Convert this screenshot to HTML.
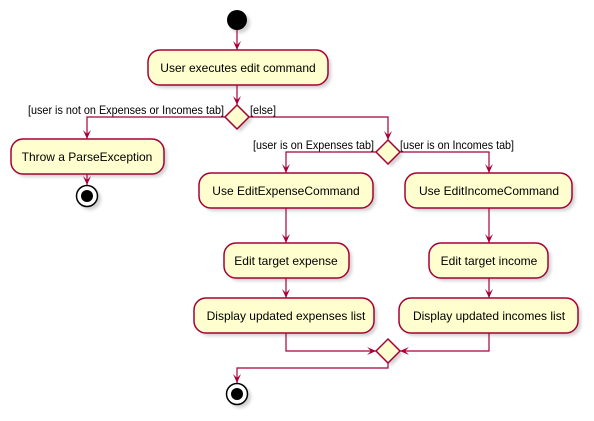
<!DOCTYPE html>
<html><head><meta charset="utf-8"><style>
html,body{margin:0;padding:0;background:#fff}
svg{display:block}
text{font-family:"Liberation Sans",sans-serif;font-size:12px;fill:#000}
.b{fill:#FEFECE;stroke:#A80036;stroke-width:1.5}
.s{fill:#000;opacity:0.18}
.l{stroke:#A80036;stroke-width:1.2;fill:none}
.a{fill:#A80036}
</style></head><body>
<svg width="594" height="421" viewBox="0 0 594 421" xmlns="http://www.w3.org/2000/svg">
<defs><filter id="f" x="-20%" y="-20%" width="150%" height="160%"><feGaussianBlur stdDeviation="1.5"/></filter></defs>
<circle cx="240" cy="23" r="10" class="s" filter="url(#f)"/>
<circle cx="237" cy="20" r="10" fill="#000"/>
<line x1="237" y1="30" x2="237" y2="50" class="l"/><path d="M233,41 L237,50 L241,41 L237,45Z" class="a"/>
<rect x="151" y="53" width="180" height="35" rx="12" class="s" filter="url(#f)"/>
<rect x="148" y="50" width="180" height="35" rx="12" class="b"/>
<text x="238" y="72" text-anchor="middle">User executes edit command</text>
<line x1="237" y1="85" x2="237" y2="105" class="l"/><path d="M233,96 L237,105 L241,96 L237,100Z" class="a"/>
<path d="M240,108 L252,120 L240,132 L228,120Z" class="s" filter="url(#f)"/>
<path d="M237,105 L249,117 L237,129 L225,117Z" class="b"/>
<text x="28" y="114" font-size="11" textLength="196" lengthAdjust="spacingAndGlyphs">[user is not on Expenses or Incomes tab]</text>
<text x="250" y="114" font-size="11" textLength="26" lengthAdjust="spacingAndGlyphs">[else]</text>
<path d="M225,117 H87 V139" class="l"/><path d="M83,130 L87,139 L91,130 L87,134Z" class="a"/>
<path d="M249,117 H388 V140" class="l"/><path d="M384,131 L388,140 L392,131 L388,135Z" class="a"/>
<rect x="14" y="142" width="153" height="35" rx="12" class="s" filter="url(#f)"/>
<rect x="11" y="139" width="153" height="35" rx="12" class="b"/>
<text x="87" y="161" text-anchor="middle">Throw a ParseException</text>
<line x1="87" y1="174" x2="87" y2="185" class="l"/><path d="M83,176 L87,185 L91,176 L87,180Z" class="a"/>
<circle cx="90" cy="199" r="11" class="s" filter="url(#f)"/>
<circle cx="87" cy="196" r="10.5" fill="#fff" stroke="#000" stroke-width="1.5"/>
<circle cx="87" cy="196" r="6" fill="#000"/>
<path d="M391,143 L403,155 L391,167 L379,155Z" class="s" filter="url(#f)"/>
<path d="M388,140 L400,152 L388,164 L376,152Z" class="b"/>
<text x="253" y="149" font-size="11" textLength="121" lengthAdjust="spacingAndGlyphs">[user is on Expenses tab]</text>
<text x="400" y="149" font-size="11" textLength="114" lengthAdjust="spacingAndGlyphs">[user is on Incomes tab]</text>
<path d="M376,152 H286 V173" class="l"/><path d="M282,164 L286,173 L290,164 L286,168Z" class="a"/>
<path d="M400,152 H489 V173" class="l"/><path d="M485,164 L489,173 L493,164 L489,168Z" class="a"/>
<rect x="202" y="176" width="174" height="35" rx="12" class="s" filter="url(#f)"/>
<rect x="199" y="173" width="174" height="35" rx="12" class="b"/>
<text x="286" y="195" text-anchor="middle">Use EditExpenseCommand</text>
<line x1="286" y1="208" x2="286" y2="243" class="l"/><path d="M282,234 L286,243 L290,234 L286,238Z" class="a"/>
<rect x="227" y="246" width="125" height="35" rx="12" class="s" filter="url(#f)"/>
<rect x="224" y="243" width="125" height="35" rx="12" class="b"/>
<text x="286" y="265" text-anchor="middle">Edit target expense</text>
<line x1="286" y1="278" x2="286" y2="298" class="l"/><path d="M282,289 L286,298 L290,289 L286,293Z" class="a"/>
<rect x="197" y="301" width="180" height="35" rx="12" class="s" filter="url(#f)"/>
<rect x="194" y="298" width="180" height="35" rx="12" class="b"/>
<text x="286" y="320" text-anchor="middle">Display updated expenses list</text>
<rect x="408" y="176" width="167" height="35" rx="12" class="s" filter="url(#f)"/>
<rect x="405" y="173" width="167" height="35" rx="12" class="b"/>
<text x="489" y="195" text-anchor="middle">Use EditIncomeCommand</text>
<line x1="489" y1="208" x2="489" y2="243" class="l"/><path d="M485,234 L489,243 L493,234 L489,238Z" class="a"/>
<rect x="432" y="246" width="119" height="35" rx="12" class="s" filter="url(#f)"/>
<rect x="429" y="243" width="119" height="35" rx="12" class="b"/>
<text x="489" y="265" text-anchor="middle">Edit target income</text>
<line x1="489" y1="278" x2="489" y2="298" class="l"/><path d="M485,289 L489,298 L493,289 L489,293Z" class="a"/>
<rect x="402" y="301" width="179" height="35" rx="12" class="s" filter="url(#f)"/>
<rect x="399" y="298" width="179" height="35" rx="12" class="b"/>
<text x="489" y="320" text-anchor="middle">Display updated incomes list</text>
<path d="M286,333 V351 H376" class="l"/><path d="M367,347 L376,351 L367,355 L371,351Z" class="a"/>
<path d="M489,333 V351 H400" class="l"/><path d="M409,347 L400,351 L409,355 L405,351Z" class="a"/>
<path d="M391,342 L403,354 L391,366 L379,354Z" class="s" filter="url(#f)"/>
<path d="M388,339 L400,351 L388,363 L376,351Z" class="b"/>
<path d="M388,363 V368 H237 V383" class="l"/><path d="M233,374 L237,383 L241,374 L237,378Z" class="a"/>
<circle cx="240" cy="397" r="11" class="s" filter="url(#f)"/>
<circle cx="237" cy="394" r="10.5" fill="#fff" stroke="#000" stroke-width="1.5"/>
<circle cx="237" cy="394" r="6" fill="#000"/>
</svg>
</body></html>
